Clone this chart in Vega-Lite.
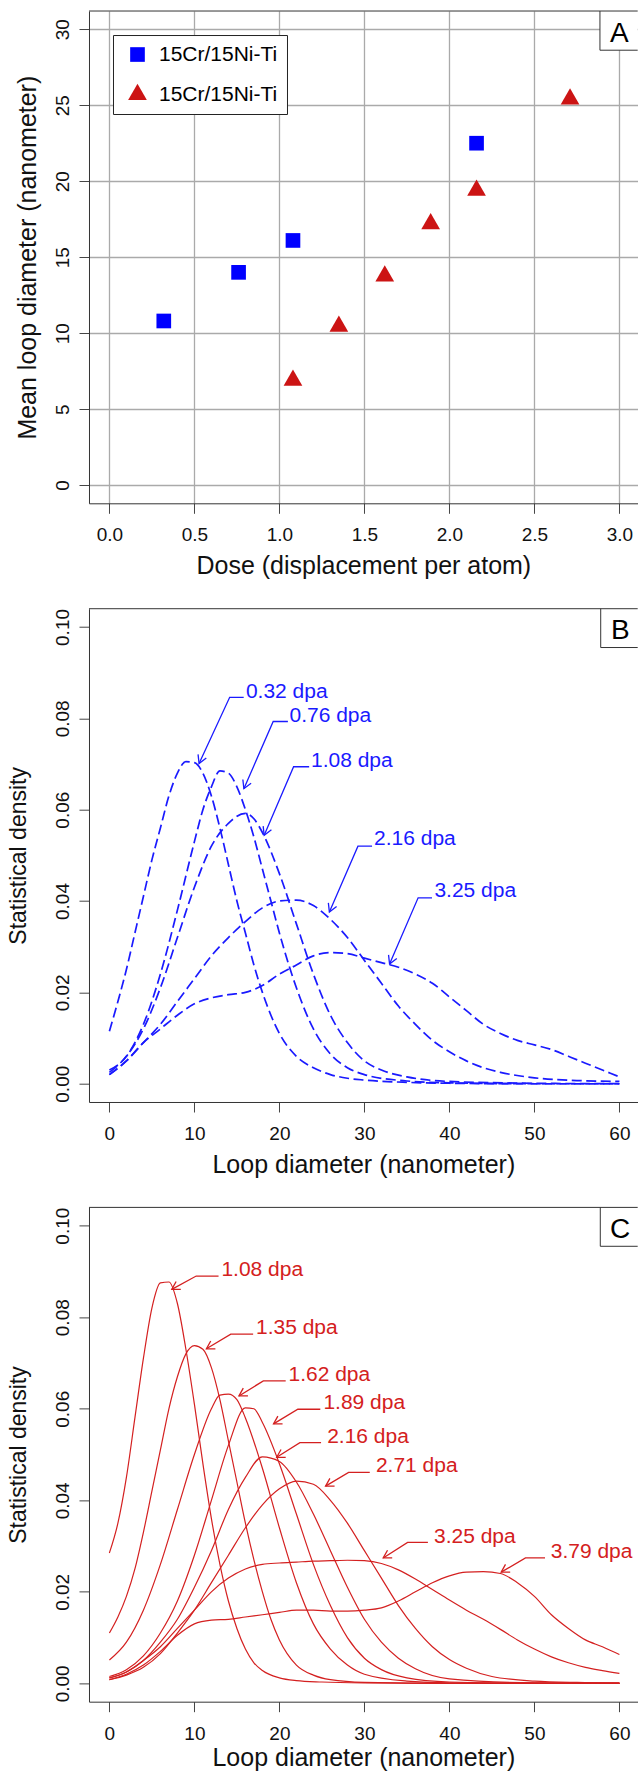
{
  "$schema": "https://vega.github.io/schema/vega-lite/v6.json",
  "padding": {"left": 7, "top": 10, "right": 0, "bottom": 0},
  "autosize": {"type": "pad"},
  "bounds": "flush",
  "spacing": 104.7,
  "config": {
    "font": "Liberation Sans",
    "view": {"stroke": null},
    "axis": {
      "labelFont": "Liberation Sans", "labelFontSize": 19, "labelColor": "#111111",
      "titleFont": "Liberation Sans", "titleFontSize": 25, "titleFontWeight": "normal", "titleColor": "#111111",
      "tickSize": 10, "tickColor": "#444444", "tickWidth": 1, "domain": true, "domainColor": "#333333", "domainWidth": 1, "grid": false,
      "labelFlush": false, "labelOverlap": false, "labelBound": false
    },
    "axisX": {"labelPadding": 12.5, "titleBaseline": "alphabetic"},
    "axisY": {"labelAngle": -90, "labelAlign": "center", "labelBaseline": "alphabetic", "labelPadding": 10.3, "titleBaseline": "alphabetic"}
  },
  "datasets": {
    "loops": [
      {"set": "set 1", "dose": 0.32, "diameter": 10.8},
      {"set": "set 1", "dose": 0.76, "diameter": 14.0},
      {"set": "set 1", "dose": 1.08, "diameter": 16.1},
      {"set": "set 1", "dose": 2.16, "diameter": 22.5},
      {"set": "set 2", "dose": 1.08, "diameter": 6.9},
      {"set": "set 2", "dose": 1.35, "diameter": 10.45},
      {"set": "set 2", "dose": 1.62, "diameter": 13.75},
      {"set": "set 2", "dose": 1.89, "diameter": 17.2},
      {"set": "set 2", "dose": 2.16, "diameter": 19.4},
      {"set": "set 2", "dose": 2.71, "diameter": 25.4}
    ],
    "b_curves": [
      {"dose":"0.32","x":0,"y":0.0115},{"dose":"0.32","x":1,"y":0.018},{"dose":"0.32","x":2,"y":0.025},{"dose":"0.32","x":3,"y":0.033},{"dose":"0.32","x":4,"y":0.041},{"dose":"0.32","x":5,"y":0.049},{"dose":"0.32","x":6,"y":0.056},{"dose":"0.32","x":7,"y":0.063},{"dose":"0.32","x":8,"y":0.068},{"dose":"0.32","x":9,"y":0.0705},{"dose":"0.32","x":10,"y":0.0703},{"dose":"0.32","x":11,"y":0.068},{"dose":"0.32","x":12,"y":0.063},{"dose":"0.32","x":13,"y":0.056},{"dose":"0.32","x":14,"y":0.048},{"dose":"0.32","x":15,"y":0.04},{"dose":"0.32","x":16,"y":0.033},{"dose":"0.32","x":17,"y":0.026},{"dose":"0.32","x":18,"y":0.02},{"dose":"0.32","x":19,"y":0.015},{"dose":"0.32","x":20,"y":0.011},{"dose":"0.32","x":22,"y":0.006},{"dose":"0.32","x":24,"y":0.0035},{"dose":"0.32","x":26,"y":0.002},{"dose":"0.32","x":28,"y":0.0012},{"dose":"0.32","x":30,"y":0.0008},{"dose":"0.32","x":35,"y":0.0003},{"dose":"0.32","x":40,"y":0.0001},{"dose":"0.32","x":50,"y":0},{"dose":"0.32","x":60,"y":0},
      {"dose":"0.76","x":0,"y":0.003},{"dose":"0.76","x":2,"y":0.006},{"dose":"0.76","x":4,"y":0.013},{"dose":"0.76","x":6,"y":0.024},{"dose":"0.76","x":8,"y":0.038},{"dose":"0.76","x":10,"y":0.053},{"dose":"0.76","x":11,"y":0.06},{"dose":"0.76","x":12,"y":0.065},{"dose":"0.76","x":13,"y":0.0685},{"dose":"0.76","x":14,"y":0.068},{"dose":"0.76","x":15,"y":0.065},{"dose":"0.76","x":16,"y":0.06},{"dose":"0.76","x":17,"y":0.054},{"dose":"0.76","x":18,"y":0.047},{"dose":"0.76","x":19,"y":0.04},{"dose":"0.76","x":20,"y":0.033},{"dose":"0.76","x":22,"y":0.021},{"dose":"0.76","x":24,"y":0.012},{"dose":"0.76","x":26,"y":0.0065},{"dose":"0.76","x":28,"y":0.0035},{"dose":"0.76","x":30,"y":0.002},{"dose":"0.76","x":35,"y":0.0006},{"dose":"0.76","x":40,"y":0.0002},{"dose":"0.76","x":50,"y":0},{"dose":"0.76","x":60,"y":0},
      {"dose":"1.08","x":0,"y":0.0025},{"dose":"1.08","x":2,"y":0.006},{"dose":"1.08","x":4,"y":0.012},{"dose":"1.08","x":6,"y":0.021},{"dose":"1.08","x":8,"y":0.032},{"dose":"1.08","x":10,"y":0.043},{"dose":"1.08","x":12,"y":0.052},{"dose":"1.08","x":14,"y":0.057},{"dose":"1.08","x":16,"y":0.0592},{"dose":"1.08","x":17,"y":0.058},{"dose":"1.08","x":18,"y":0.055},{"dose":"1.08","x":20,"y":0.046},{"dose":"1.08","x":22,"y":0.035},{"dose":"1.08","x":24,"y":0.024},{"dose":"1.08","x":26,"y":0.015},{"dose":"1.08","x":28,"y":0.009},{"dose":"1.08","x":30,"y":0.005},{"dose":"1.08","x":32,"y":0.003},{"dose":"1.08","x":35,"y":0.0015},{"dose":"1.08","x":40,"y":0.0005},{"dose":"1.08","x":50,"y":0.0001},{"dose":"1.08","x":60,"y":0},
      {"dose":"2.16","x":0,"y":0.002},{"dose":"2.16","x":2,"y":0.005},{"dose":"2.16","x":4,"y":0.009},{"dose":"2.16","x":6,"y":0.013},{"dose":"2.16","x":8,"y":0.018},{"dose":"2.16","x":10,"y":0.023},{"dose":"2.16","x":12,"y":0.028},{"dose":"2.16","x":14,"y":0.032},{"dose":"2.16","x":16,"y":0.0355},{"dose":"2.16","x":18,"y":0.0385},{"dose":"2.16","x":20,"y":0.04},{"dose":"2.16","x":22,"y":0.0402},{"dose":"2.16","x":24,"y":0.039},{"dose":"2.16","x":26,"y":0.036},{"dose":"2.16","x":28,"y":0.032},{"dose":"2.16","x":30,"y":0.027},{"dose":"2.16","x":32,"y":0.022},{"dose":"2.16","x":34,"y":0.017},{"dose":"2.16","x":36,"y":0.013},{"dose":"2.16","x":38,"y":0.0095},{"dose":"2.16","x":40,"y":0.007},{"dose":"2.16","x":42,"y":0.005},{"dose":"2.16","x":44,"y":0.0035},{"dose":"2.16","x":46,"y":0.0025},{"dose":"2.16","x":50,"y":0.0013},{"dose":"2.16","x":55,"y":0.0007},{"dose":"2.16","x":60,"y":0.0005},
      {"dose":"3.25","x":0,"y":0.002},{"dose":"3.25","x":2,"y":0.005},{"dose":"3.25","x":4,"y":0.009},{"dose":"3.25","x":6,"y":0.012},{"dose":"3.25","x":8,"y":0.015},{"dose":"3.25","x":10,"y":0.0175},{"dose":"3.25","x":12,"y":0.0188},{"dose":"3.25","x":14,"y":0.0195},{"dose":"3.25","x":16,"y":0.02},{"dose":"3.25","x":18,"y":0.0215},{"dose":"3.25","x":20,"y":0.024},{"dose":"3.25","x":22,"y":0.026},{"dose":"3.25","x":24,"y":0.028},{"dose":"3.25","x":26,"y":0.0287},{"dose":"3.25","x":28,"y":0.0285},{"dose":"3.25","x":30,"y":0.0275},{"dose":"3.25","x":32,"y":0.0265},{"dose":"3.25","x":34,"y":0.0255},{"dose":"3.25","x":36,"y":0.024},{"dose":"3.25","x":38,"y":0.022},{"dose":"3.25","x":40,"y":0.019},{"dose":"3.25","x":42,"y":0.016},{"dose":"3.25","x":44,"y":0.013},{"dose":"3.25","x":46,"y":0.011},{"dose":"3.25","x":48,"y":0.0095},{"dose":"3.25","x":50,"y":0.0085},{"dose":"3.25","x":52,"y":0.0075},{"dose":"3.25","x":54,"y":0.006},{"dose":"3.25","x":56,"y":0.0045},{"dose":"3.25","x":58,"y":0.003},{"dose":"3.25","x":60,"y":0.0015}
    ],
    "c_curves": [
      {"dose":"1.08","x":0,"y":0.0285},{"dose":"1.08","x":1,"y":0.035},{"dose":"1.08","x":2,"y":0.045},{"dose":"1.08","x":3,"y":0.058},{"dose":"1.08","x":4,"y":0.071},{"dose":"1.08","x":5,"y":0.082},{"dose":"1.08","x":6,"y":0.0875},{"dose":"1.08","x":7,"y":0.0877},{"dose":"1.08","x":8,"y":0.083},{"dose":"1.08","x":9,"y":0.073},{"dose":"1.08","x":10,"y":0.061},{"dose":"1.08","x":11,"y":0.048},{"dose":"1.08","x":12,"y":0.036},{"dose":"1.08","x":13,"y":0.026},{"dose":"1.08","x":14,"y":0.018},{"dose":"1.08","x":15,"y":0.012},{"dose":"1.08","x":16,"y":0.0075},{"dose":"1.08","x":17,"y":0.0045},{"dose":"1.08","x":18,"y":0.0028},{"dose":"1.08","x":20,"y":0.0012},{"dose":"1.08","x":22,"y":0.0006},{"dose":"1.08","x":25,"y":0.0003},{"dose":"1.08","x":30,"y":0.0001},{"dose":"1.08","x":40,"y":0},{"dose":"1.08","x":60,"y":0},
      {"dose":"1.35","x":0,"y":0.011},{"dose":"1.35","x":1,"y":0.0145},{"dose":"1.35","x":2,"y":0.019},{"dose":"1.35","x":3,"y":0.025},{"dose":"1.35","x":4,"y":0.033},{"dose":"1.35","x":5,"y":0.042},{"dose":"1.35","x":6,"y":0.051},{"dose":"1.35","x":7,"y":0.06},{"dose":"1.35","x":8,"y":0.067},{"dose":"1.35","x":9,"y":0.072},{"dose":"1.35","x":10,"y":0.0738},{"dose":"1.35","x":11,"y":0.073},{"dose":"1.35","x":12,"y":0.069},{"dose":"1.35","x":13,"y":0.062},{"dose":"1.35","x":14,"y":0.053},{"dose":"1.35","x":15,"y":0.044},{"dose":"1.35","x":16,"y":0.035},{"dose":"1.35","x":17,"y":0.027},{"dose":"1.35","x":18,"y":0.02},{"dose":"1.35","x":19,"y":0.014},{"dose":"1.35","x":20,"y":0.0095},{"dose":"1.35","x":22,"y":0.004},{"dose":"1.35","x":24,"y":0.0018},{"dose":"1.35","x":26,"y":0.0008},{"dose":"1.35","x":30,"y":0.0002},{"dose":"1.35","x":40,"y":0},{"dose":"1.35","x":60,"y":0},
      {"dose":"1.62","x":0,"y":0.0051},{"dose":"1.62","x":2,"y":0.009},{"dose":"1.62","x":4,"y":0.016},{"dose":"1.62","x":6,"y":0.026},{"dose":"1.62","x":8,"y":0.038},{"dose":"1.62","x":10,"y":0.05},{"dose":"1.62","x":12,"y":0.06},{"dose":"1.62","x":13,"y":0.063},{"dose":"1.62","x":14,"y":0.0632},{"dose":"1.62","x":15,"y":0.062},{"dose":"1.62","x":16,"y":0.058},{"dose":"1.62","x":18,"y":0.047},{"dose":"1.62","x":20,"y":0.034},{"dose":"1.62","x":22,"y":0.022},{"dose":"1.62","x":24,"y":0.013},{"dose":"1.62","x":26,"y":0.0075},{"dose":"1.62","x":28,"y":0.004},{"dose":"1.62","x":30,"y":0.002},{"dose":"1.62","x":35,"y":0.0005},{"dose":"1.62","x":40,"y":0.0001},{"dose":"1.62","x":60,"y":0},
      {"dose":"1.89","x":0,"y":0.0015},{"dose":"1.89","x":2,"y":0.003},{"dose":"1.89","x":4,"y":0.006},{"dose":"1.89","x":6,"y":0.011},{"dose":"1.89","x":8,"y":0.018},{"dose":"1.89","x":10,"y":0.028},{"dose":"1.89","x":12,"y":0.04},{"dose":"1.89","x":14,"y":0.052},{"dose":"1.89","x":16,"y":0.0602},{"dose":"1.89","x":17,"y":0.06},{"dose":"1.89","x":18,"y":0.057},{"dose":"1.89","x":20,"y":0.048},{"dose":"1.89","x":22,"y":0.037},{"dose":"1.89","x":24,"y":0.026},{"dose":"1.89","x":26,"y":0.017},{"dose":"1.89","x":28,"y":0.01},{"dose":"1.89","x":30,"y":0.0055},{"dose":"1.89","x":32,"y":0.003},{"dose":"1.89","x":35,"y":0.0012},{"dose":"1.89","x":40,"y":0.0003},{"dose":"1.89","x":50,"y":0},{"dose":"1.89","x":60,"y":0},
      {"dose":"2.16","x":0,"y":0.0012},{"dose":"2.16","x":2,"y":0.0025},{"dose":"2.16","x":4,"y":0.005},{"dose":"2.16","x":6,"y":0.009},{"dose":"2.16","x":8,"y":0.014},{"dose":"2.16","x":10,"y":0.021},{"dose":"2.16","x":12,"y":0.029},{"dose":"2.16","x":14,"y":0.038},{"dose":"2.16","x":16,"y":0.045},{"dose":"2.16","x":18,"y":0.0495},{"dose":"2.16","x":20,"y":0.0485},{"dose":"2.16","x":22,"y":0.044},{"dose":"2.16","x":24,"y":0.037},{"dose":"2.16","x":26,"y":0.029},{"dose":"2.16","x":28,"y":0.021},{"dose":"2.16","x":30,"y":0.014},{"dose":"2.16","x":32,"y":0.009},{"dose":"2.16","x":34,"y":0.0055},{"dose":"2.16","x":36,"y":0.0032},{"dose":"2.16","x":40,"y":0.001},{"dose":"2.16","x":50,"y":0.0001},{"dose":"2.16","x":60,"y":0},
      {"dose":"2.71","x":0,"y":0.0008},{"dose":"2.71","x":2,"y":0.0018},{"dose":"2.71","x":4,"y":0.0035},{"dose":"2.71","x":6,"y":0.0065},{"dose":"2.71","x":8,"y":0.011},{"dose":"2.71","x":10,"y":0.016},{"dose":"2.71","x":12,"y":0.022},{"dose":"2.71","x":14,"y":0.028},{"dose":"2.71","x":16,"y":0.034},{"dose":"2.71","x":18,"y":0.039},{"dose":"2.71","x":20,"y":0.0425},{"dose":"2.71","x":22,"y":0.0442},{"dose":"2.71","x":24,"y":0.0435},{"dose":"2.71","x":26,"y":0.04},{"dose":"2.71","x":28,"y":0.035},{"dose":"2.71","x":30,"y":0.029},{"dose":"2.71","x":32,"y":0.023},{"dose":"2.71","x":34,"y":0.017},{"dose":"2.71","x":36,"y":0.012},{"dose":"2.71","x":38,"y":0.008},{"dose":"2.71","x":40,"y":0.0052},{"dose":"2.71","x":42,"y":0.0033},{"dose":"2.71","x":45,"y":0.0015},{"dose":"2.71","x":50,"y":0.0005},{"dose":"2.71","x":55,"y":0.0002},{"dose":"2.71","x":60,"y":0.0001},
      {"dose":"3.25","x":0,"y":0.0012},{"dose":"3.25","x":2,"y":0.0025},{"dose":"3.25","x":4,"y":0.005},{"dose":"3.25","x":6,"y":0.008},{"dose":"3.25","x":8,"y":0.012},{"dose":"3.25","x":10,"y":0.016},{"dose":"3.25","x":12,"y":0.02},{"dose":"3.25","x":14,"y":0.023},{"dose":"3.25","x":16,"y":0.025},{"dose":"3.25","x":18,"y":0.026},{"dose":"3.25","x":20,"y":0.0263},{"dose":"3.25","x":22,"y":0.0265},{"dose":"3.25","x":24,"y":0.0267},{"dose":"3.25","x":26,"y":0.0268},{"dose":"3.25","x":28,"y":0.0269},{"dose":"3.25","x":30,"y":0.0268},{"dose":"3.25","x":32,"y":0.0262},{"dose":"3.25","x":34,"y":0.0248},{"dose":"3.25","x":36,"y":0.0228},{"dose":"3.25","x":38,"y":0.0205},{"dose":"3.25","x":40,"y":0.0182},{"dose":"3.25","x":42,"y":0.016},{"dose":"3.25","x":44,"y":0.014},{"dose":"3.25","x":46,"y":0.0118},{"dose":"3.25","x":48,"y":0.0095},{"dose":"3.25","x":50,"y":0.0075},{"dose":"3.25","x":52,"y":0.0058},{"dose":"3.25","x":54,"y":0.0045},{"dose":"3.25","x":56,"y":0.0035},{"dose":"3.25","x":58,"y":0.0028},{"dose":"3.25","x":60,"y":0.0022},
      {"dose":"3.79","x":0,"y":0.0008},{"dose":"3.79","x":2,"y":0.002},{"dose":"3.79","x":4,"y":0.004},{"dose":"3.79","x":6,"y":0.007},{"dose":"3.79","x":8,"y":0.0105},{"dose":"3.79","x":10,"y":0.013},{"dose":"3.79","x":12,"y":0.0138},{"dose":"3.79","x":14,"y":0.014},{"dose":"3.79","x":16,"y":0.0145},{"dose":"3.79","x":18,"y":0.015},{"dose":"3.79","x":20,"y":0.0155},{"dose":"3.79","x":22,"y":0.016},{"dose":"3.79","x":24,"y":0.016},{"dose":"3.79","x":26,"y":0.0158},{"dose":"3.79","x":28,"y":0.0158},{"dose":"3.79","x":30,"y":0.016},{"dose":"3.79","x":32,"y":0.0165},{"dose":"3.79","x":34,"y":0.018},{"dose":"3.79","x":36,"y":0.02},{"dose":"3.79","x":38,"y":0.022},{"dose":"3.79","x":40,"y":0.0235},{"dose":"3.79","x":42,"y":0.0243},{"dose":"3.79","x":44,"y":0.0244},{"dose":"3.79","x":46,"y":0.024},{"dose":"3.79","x":48,"y":0.022},{"dose":"3.79","x":50,"y":0.019},{"dose":"3.79","x":52,"y":0.015},{"dose":"3.79","x":54,"y":0.012},{"dose":"3.79","x":56,"y":0.0095},{"dose":"3.79","x":58,"y":0.008},{"dose":"3.79","x":60,"y":0.0063}
    ],
    "b_labels": [
      {"label":"0.32 dpa","x":16.06,"y":0.0858},
      {"label":"0.76 dpa","x":21.19,"y":0.0805},
      {"label":"1.08 dpa","x":23.72,"y":0.0707},
      {"label":"2.16 dpa","x":31.14,"y":0.0536},
      {"label":"3.25 dpa","x":38.24,"y":0.0421}
    ],
    "b_arrows": [
      {"label":"0.32","part":"shaft","seq":1,"x":15.8,"y":0.0846},{"label":"0.32","part":"shaft","seq":2,"x":14.15,"y":0.0846},{"label":"0.32","part":"shaft","seq":3,"x":10.55,"y":0.0701},
      {"label":"0.32","part":"head","seq":1,"x":11.4,"y":0.0713},{"label":"0.32","part":"head","seq":2,"x":10.55,"y":0.0701},{"label":"0.32","part":"head","seq":3,"x":10.43,"y":0.0721},
      {"label":"0.76","part":"shaft","seq":1,"x":21.0,"y":0.0793},{"label":"0.76","part":"shaft","seq":2,"x":19.27,"y":0.0793},{"label":"0.76","part":"shaft","seq":3,"x":15.82,"y":0.0646},
      {"label":"0.76","part":"head","seq":1,"x":16.67,"y":0.0658},{"label":"0.76","part":"head","seq":2,"x":15.82,"y":0.0646},{"label":"0.76","part":"head","seq":3,"x":15.7,"y":0.0666},
      {"label":"1.08","part":"shaft","seq":1,"x":23.5,"y":0.0694},{"label":"1.08","part":"shaft","seq":2,"x":21.67,"y":0.0694},{"label":"1.08","part":"shaft","seq":3,"x":18.21,"y":0.0544},
      {"label":"1.08","part":"head","seq":1,"x":19.06,"y":0.0556},{"label":"1.08","part":"head","seq":2,"x":18.21,"y":0.0544},{"label":"1.08","part":"head","seq":3,"x":18.09,"y":0.0564},
      {"label":"2.16","part":"shaft","seq":1,"x":30.9,"y":0.052},{"label":"2.16","part":"shaft","seq":2,"x":29.24,"y":0.052},{"label":"2.16","part":"shaft","seq":3,"x":25.88,"y":0.0376},
      {"label":"2.16","part":"head","seq":1,"x":26.73,"y":0.0388},{"label":"2.16","part":"head","seq":2,"x":25.88,"y":0.0376},{"label":"2.16","part":"head","seq":3,"x":25.76,"y":0.0396},
      {"label":"3.25","part":"shaft","seq":1,"x":37.95,"y":0.0407},{"label":"3.25","part":"shaft","seq":2,"x":36.32,"y":0.0407},{"label":"3.25","part":"shaft","seq":3,"x":32.96,"y":0.0262},
      {"label":"3.25","part":"head","seq":1,"x":33.81,"y":0.0274},{"label":"3.25","part":"head","seq":2,"x":32.96,"y":0.0262},{"label":"3.25","part":"head","seq":3,"x":32.84,"y":0.0282}
    ],
    "c_labels": [
      {"label":"1.08 dpa","x":13.18,"y":0.0903},
      {"label":"1.35 dpa","x":17.25,"y":0.0776},
      {"label":"1.62 dpa","x":21.07,"y":0.0673},
      {"label":"1.89 dpa","x":25.18,"y":0.0612},
      {"label":"2.16 dpa","x":25.62,"y":0.0538},
      {"label":"2.71 dpa","x":31.35,"y":0.0474},
      {"label":"3.25 dpa","x":38.19,"y":0.032},
      {"label":"3.79 dpa","x":51.92,"y":0.0288}
    ],
    "c_arrows": [
      {"label":"1.08","part":"shaft","seq":1,"x":12.84,"y":0.089},{"label":"1.08","part":"shaft","seq":2,"x":10.21,"y":0.089},{"label":"1.08","part":"shaft","seq":3,"x":7.34,"y":0.0861},
      {"label":"1.08","part":"head","seq":1,"x":8.4,"y":0.0861},{"label":"1.08","part":"head","seq":2,"x":7.34,"y":0.0861},{"label":"1.08","part":"head","seq":3,"x":7.85,"y":0.0878},
      {"label":"1.35","part":"shaft","seq":1,"x":16.91,"y":0.0763},{"label":"1.35","part":"shaft","seq":2,"x":14.28,"y":0.0763},{"label":"1.35","part":"shaft","seq":3,"x":11.41,"y":0.0731},
      {"label":"1.35","part":"head","seq":1,"x":12.47,"y":0.0731},{"label":"1.35","part":"head","seq":2,"x":11.41,"y":0.0731},{"label":"1.35","part":"head","seq":3,"x":11.92,"y":0.0748},
      {"label":"1.62","part":"shaft","seq":1,"x":20.74,"y":0.0661},{"label":"1.62","part":"shaft","seq":2,"x":18.11,"y":0.0661},{"label":"1.62","part":"shaft","seq":3,"x":15.24,"y":0.0628},
      {"label":"1.62","part":"head","seq":1,"x":16.3,"y":0.0628},{"label":"1.62","part":"head","seq":2,"x":15.24,"y":0.0628},{"label":"1.62","part":"head","seq":3,"x":15.75,"y":0.0645},
      {"label":"1.89","part":"shaft","seq":1,"x":24.81,"y":0.0599},{"label":"1.89","part":"shaft","seq":2,"x":22.17,"y":0.0599},{"label":"1.89","part":"shaft","seq":3,"x":19.31,"y":0.0567},
      {"label":"1.89","part":"head","seq":1,"x":20.37,"y":0.0567},{"label":"1.89","part":"head","seq":2,"x":19.31,"y":0.0567},{"label":"1.89","part":"head","seq":3,"x":19.82,"y":0.0584},
      {"label":"2.16","part":"shaft","seq":1,"x":24.9,"y":0.0526},{"label":"2.16","part":"shaft","seq":2,"x":22.41,"y":0.0526},{"label":"2.16","part":"shaft","seq":3,"x":19.68,"y":0.0494},
      {"label":"2.16","part":"head","seq":1,"x":20.74,"y":0.0494},{"label":"2.16","part":"head","seq":2,"x":19.68,"y":0.0494},{"label":"2.16","part":"head","seq":3,"x":20.19,"y":0.0511},
      {"label":"2.71","part":"shaft","seq":1,"x":30.63,"y":0.0461},{"label":"2.71","part":"shaft","seq":2,"x":28.14,"y":0.0461},{"label":"2.71","part":"shaft","seq":3,"x":25.43,"y":0.0431},
      {"label":"2.71","part":"head","seq":1,"x":26.49,"y":0.0431},{"label":"2.71","part":"head","seq":2,"x":25.43,"y":0.0431},{"label":"2.71","part":"head","seq":3,"x":25.94,"y":0.0448},
      {"label":"3.25","part":"shaft","seq":1,"x":37.47,"y":0.0308},{"label":"3.25","part":"shaft","seq":2,"x":35.08,"y":0.0308},{"label":"3.25","part":"shaft","seq":3,"x":32.21,"y":0.0274},
      {"label":"3.25","part":"head","seq":1,"x":33.27,"y":0.0274},{"label":"3.25","part":"head","seq":2,"x":32.21,"y":0.0274},{"label":"3.25","part":"head","seq":3,"x":32.72,"y":0.0291},
      {"label":"3.79","part":"shaft","seq":1,"x":51.25,"y":0.0274},{"label":"3.79","part":"shaft","seq":2,"x":48.95,"y":0.0274},{"label":"3.79","part":"shaft","seq":3,"x":46.09,"y":0.0243},
      {"label":"3.79","part":"head","seq":1,"x":47.15,"y":0.0243},{"label":"3.79","part":"head","seq":2,"x":46.09,"y":0.0243},{"label":"3.79","part":"head","seq":3,"x":46.6,"y":0.026}
    ]
  },
  "vconcat": [
    {
      "width": 548.7,
      "height": 492.3,
      "layer": [
        {
          "data": {"name": "loops"},
          "mark": {"type": "point", "filled": true, "opacity": 1, "strokeWidth": 0},
          "encoding": {
            "x": {"field": "dose", "type": "quantitative",
              "scale": {"domain": [-0.12, 3.108], "nice": false, "zero": false},
              "axis": {"values": [0, 0.5, 1, 1.5, 2, 2.5, 3], "format": ".1f", "grid": true, "gridColor": "#aaaaaa", "gridWidth": 1.3,
                "title": "Dose (displacement per atom)", "titleY": 70.5}},
            "y": {"field": "diameter", "type": "quantitative",
              "scale": {"domain": [-1.2, 31.2], "nice": false, "zero": false},
              "axis": {"values": [0, 5, 10, 15, 20, 25, 30], "grid": true, "gridColor": "#aaaaaa", "gridWidth": 1.3,
                "title": "Mean loop diameter (nanometer)", "titleX": -53.6}},
            "color": {"field": "set", "type": "nominal",
              "scale": {"domain": ["set 1", "set 2"], "range": ["#0000ff", "#cc1414"]},
              "legend": {"orient": "top-left", "offset": 24, "title": null, "labelExpr": "'15Cr/15Ni-Ti\u00a0\u00a0\u00a0\u00a0'",
                "labelFont": "Liberation Sans", "labelFontSize": 21, "strokeColor": "#222222", "fillColor": "#ffffff",
                "padding": 9, "rowPadding": 18, "symbolOffset": 5, "labelOffset": 11,
                "encode": {"labels": {"update": {"fill": {"signal": "datum.value === 'set 1' ? '#0000ff' : '#cc1414'"}}}}}},
            "shape": {"field": "set", "type": "nominal",
              "scale": {"domain": ["set 1", "set 2"], "range": ["square", "M0,-1.155L-1,0.577L1,0.577Z"]}},
            "size": {"field": "set", "type": "nominal",
              "scale": {"domain": ["set 1", "set 2"], "range": [215, 350]}}
          }
        },
        {
          "data": {"values": [{"x": 2.886, "x2": 3.108, "y": 28.62, "y2": 31.2}]},
          "mark": {"type": "rect", "fill": "#ffffff", "strokeWidth": 0},
          "encoding": {
            "x": {"field": "x", "type": "quantitative"}, "x2": {"field": "x2"},
            "y": {"field": "y", "type": "quantitative"}, "y2": {"field": "y2"}
          }
        },
        {
          "data": {"values": [
            {"x": 2.886, "x2": 2.886, "y": 28.62, "y2": 31.2},
            {"x": 2.886, "x2": 3.108, "y": 28.62, "y2": 28.62},
            {"x": -0.12, "x2": 3.108, "y": 31.2, "y2": 31.2}
          ]},
          "mark": {"type": "rule", "color": "#333333", "strokeWidth": 1},
          "encoding": {
            "x": {"field": "x", "type": "quantitative"}, "x2": {"field": "x2"},
            "y": {"field": "y", "type": "quantitative"}, "y2": {"field": "y2"}
          }
        },
        {
          "data": {"values": [{"x": 3.0, "y": 29.69, "t": "A"}]},
          "mark": {"type": "text", "font": "Liberation Sans", "fontSize": 28, "align": "center", "baseline": "middle", "color": "#000000"},
          "encoding": {
            "x": {"field": "x", "type": "quantitative"},
            "y": {"field": "y", "type": "quantitative"},
            "text": {"field": "t"}
          }
        }
      ]
    },
    {
      "width": 548.7,
      "height": 493.3,
      "encoding": {
        "x": {"field": "x", "type": "quantitative",
          "scale": {"domain": [-2.4, 62.15], "nice": false, "zero": false},
          "axis": {"values": [0, 10, 20, 30, 40, 50, 60], "title": "Loop diameter (nanometer)", "titleY": 70.5}},
        "y": {"field": "y", "type": "quantitative",
          "scale": {"domain": [-0.004, 0.104], "nice": false, "zero": false},
          "axis": {"values": [0, 0.02, 0.04, 0.06, 0.08, 0.1], "format": ".2f", "title": "Statistical density", "titleFontSize": 23, "titleX": -63.3}}
      },
      "layer": [
        {
          "data": {"name": "b_curves"},
          "mark": {"type": "line", "color": "#1a1aff", "strokeWidth": 1.7, "strokeDash": [10, 4.5], "interpolate": "monotone"},
          "encoding": {"detail": {"field": "dose"}}
        },
        {
          "data": {"name": "b_arrows"},
          "mark": {"type": "line", "color": "#1a1aff", "strokeWidth": 1.3},
          "encoding": {"detail": [{"field": "label"}, {"field": "part"}], "order": {"field": "seq"}}
        },
        {
          "data": {"name": "b_labels"},
          "mark": {"type": "text", "font": "Liberation Sans", "fontSize": 21, "align": "left", "baseline": "middle", "color": "#1a1aff"},
          "encoding": {"text": {"field": "label"}}
        },
        {
          "data": {"values": [{"x": 57.8, "x2": 62.15, "y": 0.0955, "y2": 0.104}]},
          "mark": {"type": "rect", "fill": "#ffffff", "strokeWidth": 0},
          "encoding": {"x2": {"field": "x2"}, "y2": {"field": "y2"}}
        },
        {
          "data": {"values": [
            {"x": 57.8, "x2": 57.8, "y": 0.0955, "y2": 0.104},
            {"x": 57.8, "x2": 62.15, "y": 0.0955, "y2": 0.0955},
            {"x": -2.4, "x2": 62.15, "y": 0.104, "y2": 0.104}
          ]},
          "mark": {"type": "rule", "color": "#333333", "strokeWidth": 1},
          "encoding": {"x2": {"field": "x2"}, "y2": {"field": "y2"}}
        },
        {
          "data": {"values": [{"x": 60.1, "y": 0.0991, "t": "B"}]},
          "mark": {"type": "text", "font": "Liberation Sans", "fontSize": 28, "align": "center", "baseline": "middle", "color": "#000000"},
          "encoding": {"text": {"field": "t"}}
        }
      ]
    },
    {
      "width": 548.7,
      "height": 494.3,
      "encoding": {
        "x": {"field": "x", "type": "quantitative",
          "scale": {"domain": [-2.4, 62.15], "nice": false, "zero": false},
          "axis": {"values": [0, 10, 20, 30, 40, 50, 60], "title": "Loop diameter (nanometer)", "titleY": 64}},
        "y": {"field": "y", "type": "quantitative",
          "scale": {"domain": [-0.004, 0.104], "nice": false, "zero": false},
          "axis": {"values": [0, 0.02, 0.04, 0.06, 0.08, 0.1], "format": ".2f", "title": "Statistical density", "titleFontSize": 23, "titleX": -63.3}}
      },
      "layer": [
        {
          "data": {"name": "c_curves"},
          "mark": {"type": "line", "color": "#d42020", "strokeWidth": 1.2, "interpolate": "monotone"},
          "encoding": {"detail": {"field": "dose"}}
        },
        {
          "data": {"name": "c_arrows"},
          "mark": {"type": "line", "color": "#d42020", "strokeWidth": 1.3},
          "encoding": {"detail": [{"field": "label"}, {"field": "part"}], "order": {"field": "seq"}}
        },
        {
          "data": {"name": "c_labels"},
          "mark": {"type": "text", "font": "Liberation Sans", "fontSize": 21, "align": "left", "baseline": "middle", "color": "#d42020"},
          "encoding": {"text": {"field": "label"}}
        },
        {
          "data": {"values": [{"x": 57.75, "x2": 62.15, "y": 0.0955, "y2": 0.104}]},
          "mark": {"type": "rect", "fill": "#ffffff", "strokeWidth": 0},
          "encoding": {"x2": {"field": "x2"}, "y2": {"field": "y2"}}
        },
        {
          "data": {"values": [
            {"x": 57.75, "x2": 57.75, "y": 0.0955, "y2": 0.104},
            {"x": 57.75, "x2": 62.15, "y": 0.0955, "y2": 0.0955},
            {"x": -2.4, "x2": 62.15, "y": 0.104, "y2": 0.104}
          ]},
          "mark": {"type": "rule", "color": "#333333", "strokeWidth": 1},
          "encoding": {"x2": {"field": "x2"}, "y2": {"field": "y2"}}
        },
        {
          "data": {"values": [{"x": 60.07, "y": 0.0991, "t": "C"}]},
          "mark": {"type": "text", "font": "Liberation Sans", "fontSize": 28, "align": "center", "baseline": "middle", "color": "#000000"},
          "encoding": {"text": {"field": "t"}}
        }
      ]
    }
  ]
}
